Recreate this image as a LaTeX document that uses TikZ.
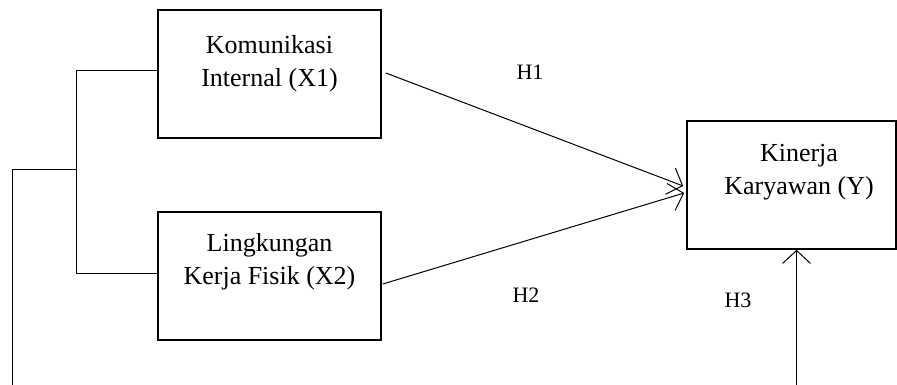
\documentclass[tikz,border=0pt]{standalone}
\usepackage{fontspec}
\setmainfont{Liberation Serif}
\usetikzlibrary{arrows.meta}
\begin{document}
\begin{tikzpicture}[x=1pt,y=-1pt,
  box/.style={draw, line width=1.6pt, inner sep=0pt},
  lbl/.style={align=center, font=\fontsize{26}{33}\selectfont, inner sep=0pt},
  hlbl/.style={font=\fontsize{22}{26}\selectfont, inner sep=0pt},
  conn/.style={line width=1pt},
  arr/.style={line width=1pt, -{Straight Barb[length=13pt,width=28pt,line width=1pt]}}]
\useasboundingbox (0,0) rectangle (897,385);
% boxes
\node[box, minimum width=223pt, minimum height=128pt] (x1) at (269.5,74) {};
\node[box, minimum width=223pt, minimum height=128pt] (x2) at (269.5,276) {};
\node[box, minimum width=209pt, minimum height=128pt] (y) at (791.5,185) {};
% texts
\node[lbl] (t1) at (269.5,64) {Komunikasi\\Internal (X1)};
\node[lbl] (t2) at (269.5,262) {Lingkungan\\Kerja Fisik (X2)};
\node[lbl] (t3) at (799,172) {Kinerja\\Karyawan (Y)};
\node[hlbl] (h1) at (530,72) {H1};
\node[hlbl] (h2) at (526,295) {H2};
\node[hlbl] (h3) at (738,300) {H3};
% left connectors
\coordinate (j) at (76.5,169.5);
\coordinate (b1) at (12.5,385);
\coordinate (b2) at (796.5,385);
\draw[conn] ([yshift=3.5pt]x1.west) -| (j) |- ([yshift=2.5pt]x2.west);
\draw[conn] (j) -| (b1);
% arrows
\draw[arr] ([xshift=4pt,yshift=1pt]x1.east) -- ([xshift=-3pt,yshift=-1pt]y.west);
\draw[arr] ([xshift=1pt,yshift=-8pt]x2.east) -- ([xshift=-2pt,yshift=-8pt]y.west);
\draw[arr] (b2) -- (b2 |- y.south);
\end{tikzpicture}
\end{document}
